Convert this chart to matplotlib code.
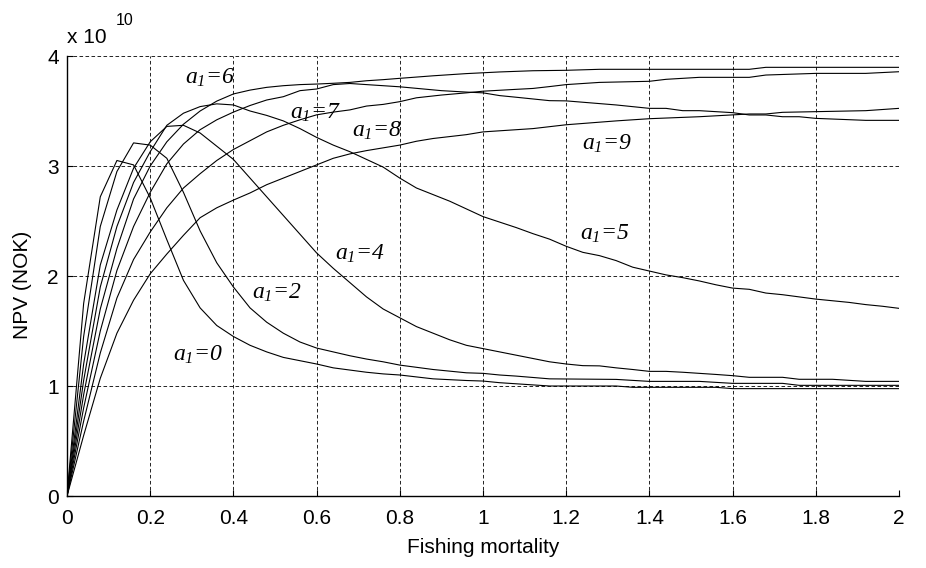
import matplotlib
matplotlib.use("Agg")
import matplotlib.pyplot as plt

plt.rcParams['font.family'] = 'Liberation Sans'
plt.rcParams['mathtext.fontset'] = 'custom'
plt.rcParams['mathtext.it'] = 'Liberation Serif:italic'
plt.rcParams['mathtext.rm'] = 'Liberation Serif:italic'

#%% DATA  (NPV in units of 1e10 NOK)
f_a0 = [0, .04, .08, .12, .16, .20, .24, .28, .32, .36, .40, .44, .48, .52, .56, .60, .64, .68, .72, .76,
        .80, .88, .96, 1.0, 1.04, 1.08, 1.16, 1.32, 1.36, 1.56, 1.6, 2.0]
npv_a0 = [0, 1.75, 2.72, 3.05, 3.01, 2.71, 2.33, 1.96, 1.71, 1.55, 1.45, 1.37, 1.31, 1.26, 1.23, 1.20, 1.165, 1.145, 1.125, 1.11,
          1.10, 1.065, 1.05, 1.045, 1.03, 1.02, 1.0, 1.0, 0.988, 0.988, 0.976, 0.976]

f_a2 = [0, .04, .08, .12, .16, .20, .24, .28, .32, .36, .40, .44, .48, .52, .56, .60, .64, .68, .72, .76,
        .80, .88, .96, 1.0, 1.04, 1.08, 1.16, 1.32, 1.4, 1.52, 1.6, 1.72, 1.76, 2.0]
npv_a2 = [0, 1.45, 2.45, 2.95, 3.21, 3.19, 3.07, 2.76, 2.41, 2.12, 1.90, 1.71, 1.58, 1.48, 1.40, 1.345, 1.31, 1.275, 1.245, 1.22,
          1.19, 1.15, 1.12, 1.115, 1.10, 1.09, 1.065, 1.06, 1.042, 1.042, 1.024, 1.024, 1.006, 1.006]

f_a4 = [0, .04, .08, .12, .16, .20, .24, .28, .32, .36, .40, .44, .48, .52, .56, .60, .64, .68, .72, .76,
        .80, .84, .88, .92, .96, 1.0, 1.04, 1.08, 1.12, 1.16, 1.2, 1.24, 1.28, 1.32, 1.36, 1.4, 1.44, 1.48, 1.52, 1.56,
        1.6, 1.64, 1.72, 1.76, 1.84, 1.92, 2.0]
npv_a4 = [0, 1.2, 2.1, 2.6, 2.98, 3.22, 3.36, 3.37, 3.30, 3.18, 3.06, 2.89, 2.72, 2.55, 2.38, 2.21, 2.07, 1.94, 1.81, 1.70,
          1.62, 1.54, 1.48, 1.42, 1.37, 1.34, 1.31, 1.28, 1.25, 1.22, 1.20, 1.185, 1.183, 1.165, 1.15, 1.133, 1.133, 1.125, 1.115, 1.105,
          1.094, 1.079, 1.079, 1.061, 1.061, 1.042, 1.042]

f_a5 = [0, .04, .08, .12, .16, .20, .24, .28, .32, .36, .40, .44, .48, .52, .56, .60, .64, .68, .72, .76,
        .80, .84, .88, .92, .96, 1.0, 1.04, 1.08, 1.12, 1.16, 1.2, 1.24, 1.28, 1.32, 1.36, 1.4, 1.44, 1.48, 1.52, 1.56,
        1.6, 1.64, 1.68, 1.72, 1.76, 1.8, 1.84, 1.88, 1.92, 1.96, 2.0]
npv_a5 = [0, 1.05, 1.9, 2.45, 2.85, 3.13, 3.37, 3.48, 3.54, 3.565, 3.555, 3.50, 3.46, 3.41, 3.34, 3.26, 3.19, 3.13, 3.06, 2.99,
          2.89, 2.80, 2.74, 2.68, 2.61, 2.54, 2.49, 2.44, 2.385, 2.335, 2.27, 2.215, 2.185, 2.14, 2.08, 2.045, 2.01, 1.985, 1.955, 1.92,
          1.89, 1.879, 1.845, 1.83, 1.81, 1.79, 1.775, 1.76, 1.74, 1.725, 1.706]

f_a6 = [0, .04, .08, .12, .16, .20, .24, .28, .32, .36, .40, .44, .48, .52, .56, .60, .64, .68, .72, .76,
        .80, .88, .96, 1.04, 1.12, 1.2, 1.28, 1.64, 1.68, 2.0]
npv_a6 = [0, 0.92, 1.7, 2.25, 2.7, 3.0, 3.22, 3.38, 3.50, 3.59, 3.655, 3.69, 3.715, 3.73, 3.74, 3.745, 3.752, 3.76, 3.775, 3.785,
          3.797, 3.82, 3.84, 3.855, 3.866, 3.87, 3.879, 3.879, 3.897, 3.897]

f_a7 = [0, .04, .08, .12, .16, .20, .24, .28, .32, .36, .40, .44, .48, .52, .56, .60, .64, .68, .72, .76,
        .80, .9, .96, 1.0, 1.04, 1.08, 1.16, 1.2, 1.32, 1.4, 1.44, 1.48, 1.52, 1.6, 1.64, 1.68, 1.72, 1.76, 1.8, 1.92, 2.0]
npv_a7 = [0, 0.8, 1.5, 2.05, 2.45, 2.76, 3.02, 3.2, 3.33, 3.42, 3.49, 3.55, 3.60, 3.63, 3.685, 3.70, 3.74, 3.75, 3.74, 3.73,
          3.72, 3.685, 3.672, 3.665, 3.64, 3.625, 3.594, 3.592, 3.555, 3.524, 3.524, 3.503, 3.503, 3.485, 3.464, 3.464, 3.448, 3.448, 3.433, 3.415, 3.415]

f_a8 = [0, .04, .08, .12, .16, .20, .24, .28, .32, .36, .40, .44, .48, .52, .56, .60, .64, .68, .72, .76,
        .80, .84, .9, .96, 1.0, 1.08, 1.12, 1.16, 1.2, 1.28, 1.4, 1.44, 1.52, 1.64, 1.68, 1.8, 1.92, 2.0]
npv_a8 = [0, 0.68, 1.3, 1.8, 2.15, 2.4, 2.62, 2.8, 2.93, 3.05, 3.15, 3.23, 3.31, 3.37, 3.42, 3.465, 3.49, 3.51, 3.545, 3.56,
          3.585, 3.62, 3.645, 3.665, 3.68, 3.697, 3.705, 3.722, 3.74, 3.76, 3.77, 3.788, 3.806, 3.806, 3.827, 3.842, 3.842, 3.857]

f_a9 = [0, .04, .08, .12, .16, .20, .24, .28, .32, .36, .40, .44, .48, .52, .56, .60, .64, .68, .72, .76,
        .80, .84, .88, .96, 1.0, 1.12, 1.2, 1.32, 1.4, 1.52, 1.64, 1.68, 1.72, 1.92, 2.0]
npv_a9 = [0, 0.55, 1.07, 1.48, 1.78, 2.02, 2.2, 2.37, 2.53, 2.62, 2.69, 2.755, 2.83, 2.89, 2.95, 3.01, 3.07, 3.11, 3.14, 3.165,
          3.19, 3.225, 3.25, 3.285, 3.31, 3.34, 3.375, 3.41, 3.43, 3.448, 3.473, 3.473, 3.488, 3.503, 3.524]

curves = [(f_a0, npv_a0), (f_a2, npv_a2), (f_a4, npv_a4), (f_a5, npv_a5),
          (f_a6, npv_a6), (f_a7, npv_a7), (f_a8, npv_a8), (f_a9, npv_a9)]

# curve labels: a1 value, x, y (baseline)
label_a1 = ['0', '2', '4', '5', '6', '7', '8', '9']
label_x = [0.256, 0.444, 0.644, 1.233, 0.284, 0.536, 0.685, 1.237]
label_y = [1.227, 1.79, 2.15, 2.333, 3.75, 3.43, 3.266, 3.15]

xticks = [0, 0.2, 0.4, 0.6, 0.8, 1, 1.2, 1.4, 1.6, 1.8, 2]
xticklabels = ['0', '0.2', '0.4', '0.6', '0.8', '1', '1.2', '1.4', '1.6', '1.8', '2']
yticks = [0, 1, 2, 3, 4]

#%% PLOT
W, H = 926, 568
fig = plt.figure(figsize=(W / 100, H / 100), dpi=100)
ax = fig.add_axes([67 / W, 72 / H, 832 / W, 440 / H])

for f, npv in curves:
    ax.plot(f, npv, color='k', lw=0.8)

for a, x, y in zip(label_a1, label_x, label_y):
    ax.text(x, y, r'$a_1$=' + a, fontsize=17, family='Liberation Serif',
            style='italic', ha='left', va='baseline')

ax.set_xlim(0, 2)
ax.set_ylim(0, 4)
ax.set_xticks(xticks)
ax.set_xticklabels(xticklabels)
ax.set_yticks(yticks)
ax.grid(True, color='k', lw=0.6, linestyle=(0, (4.3, 2.9)))
ax.spines['top'].set_visible(False)
ax.spines['right'].set_visible(False)
for s in ['left', 'bottom']:
    ax.spines[s].set_linewidth(1.0)
ax.tick_params(axis='both', direction='in', length=4, labelsize=15, width=0.8)
ax.tick_params(axis='x', pad=9)
ax.tick_params(axis='y', pad=6)

ax.set_xlabel('Fishing mortality', fontsize=15)
ax.xaxis.set_label_coords(0.5, -0.095)
ax.set_ylabel('NPV (NOK)', fontsize=15)
ax.yaxis.set_label_coords(-0.042, 0.48)

# exponent note
fig.text(67 / W, 1 - 43 / H, 'x 10', fontsize=15, ha='left', va='baseline')
fig.text(116 / W, 1 - 25 / H, '10', fontsize=11.5, ha='left', va='baseline')

fig.savefig('out.png', dpi=100)
